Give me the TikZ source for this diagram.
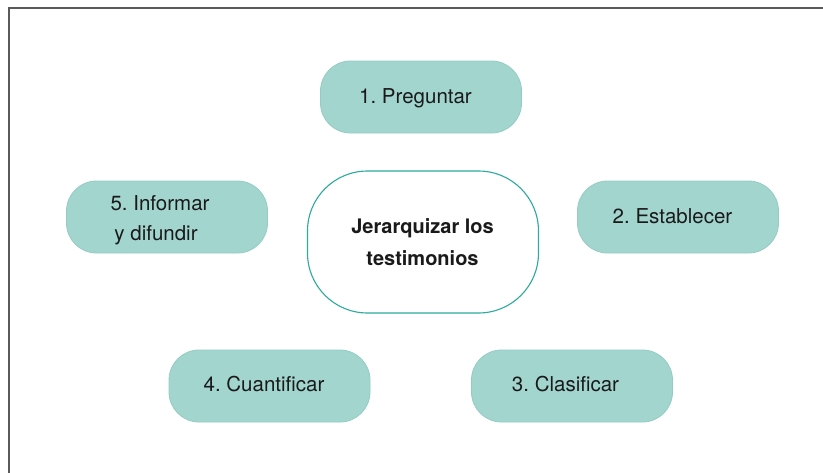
\documentclass[tikz,border=0pt]{standalone}
\usepackage{fontspec}
\setmainfont{TeX Gyre Heros}
\frenchspacing
\definecolor{boxfill}{HTML}{A3D5CF}
\definecolor{boxdraw}{HTML}{93CCC4}
\definecolor{centerdraw}{HTML}{2BAA9D}
\definecolor{frameline}{HTML}{5A5A5A}
\definecolor{txt}{HTML}{1A1A1A}
\tikzset{
  stepbox/.style={draw=boxdraw, line width=0.8pt, fill=boxfill, rounded corners=30pt,
    minimum width=201pt, minimum height=72pt, inner sep=0pt},
  centerbox/.style={draw=centerdraw, line width=1.1pt, fill=white, rounded corners=60pt,
    minimum width=231pt, minimum height=142pt, inner sep=0pt},
  lbl/.style={anchor=base, text=txt, inner sep=0pt, font=\fontsize{20.5}{31}\selectfont\frenchspacing, align=center},
  clbl/.style={anchor=base, text=txt, inner sep=0pt, font=\fontsize{20}{32}\selectfont\bfseries, align=center}
}
\begin{document}
\begin{tikzpicture}[x=1pt,y=-1pt]
\useasboundingbox (0,0) rectangle (823,472);
\draw[frameline, line width=1.5pt] (9,473) -- (9,8) -- (824,8);
% boxes
\node[centerbox] (c) at (423,242) {};
\node[stepbox] (b1) at (421,97) {};
\node[stepbox] (b2) at (678,217) {};
\node[stepbox] (b3) at (572,386) {};
\node[stepbox] (b4) at (269.5,386) {};
\node[stepbox] (b5) at (167,217) {};
% labels
\node[clbl] (tc1) at (422.5,233) {Jerarquizar los};
\node[clbl] (tc2) at (422.5,265) {testimonios};
\node[lbl] (t1) at (415.5,103) {1. Preguntar};
\node[lbl] (t2) at (672.5,223) {2. Establecer};
\node[lbl] (t3) at (565.5,391) {3. Clasificar};
\node[lbl] (t4) at (264,391) {4. Cuantificar};
\node[lbl] (t5a) at (160,210) {5. Informar};
\node[lbl] (t5b) at (156,240) {y difundir};
\end{tikzpicture}
\end{document}
